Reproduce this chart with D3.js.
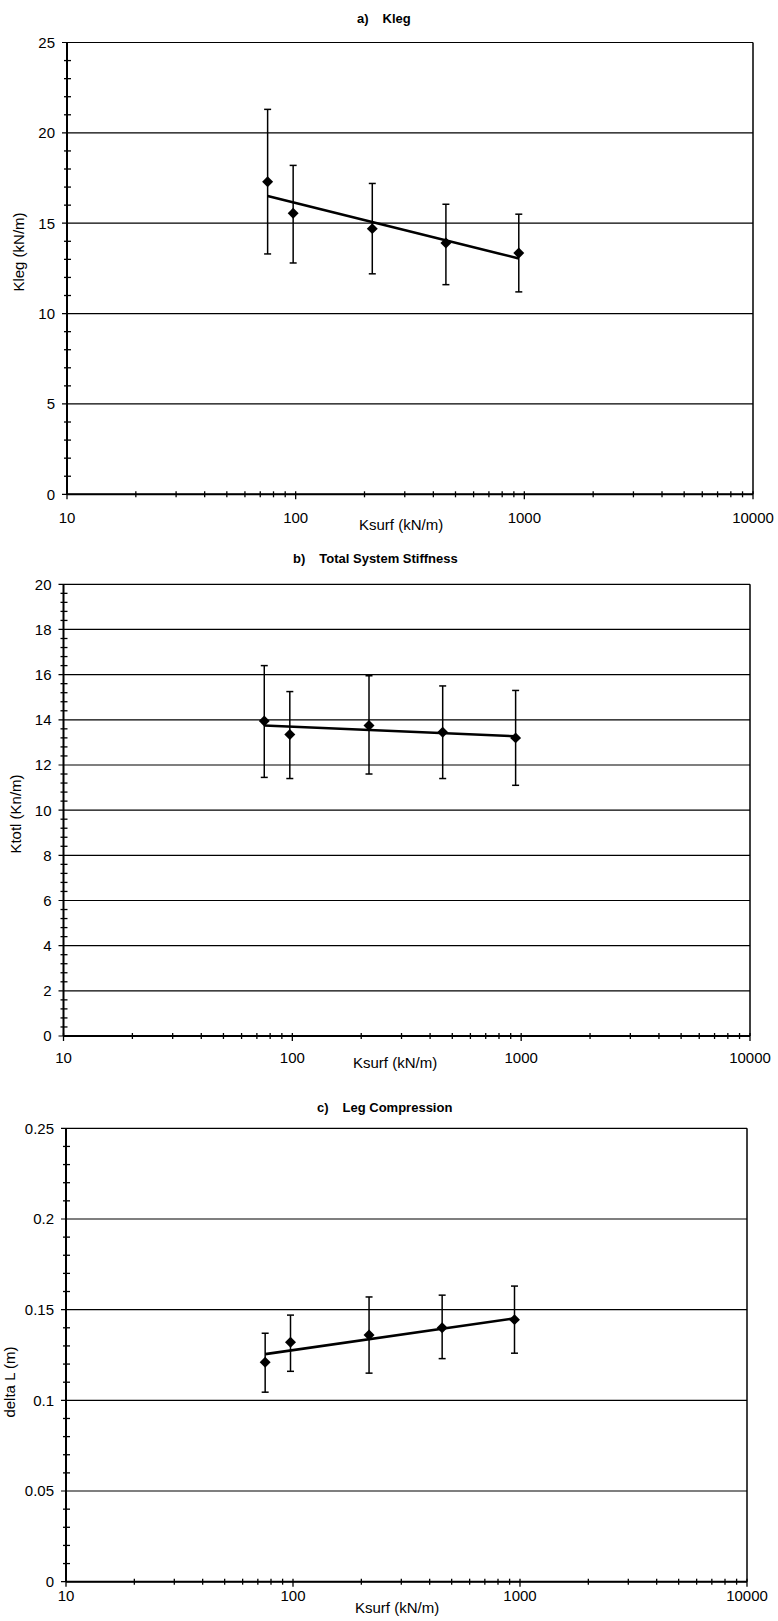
<!DOCTYPE html>
<html>
<head>
<meta charset="utf-8">
<script src="https://cdn.jsdelivr.net/npm/d3@7"></script>
<style>
  body { margin: 0; background: #fff; }
  svg { display: block; font-family: Arial, "Liberation Sans", sans-serif; }
</style>
</head>
<body>
<div id="chart"></div>
<script>
// surface stiffness (kN/m)
const ksurf = [75.4, 97.5, 216.3, 454.0, 945.7];
const xTicks = [10, 100, 1000, 10000];

// a) Kleg
const klegMean = [17.3, 15.55, 14.7, 13.9, 13.35];
const klegHi = [21.3, 18.2, 17.2, 16.05, 15.5];
const klegLo = [13.3, 12.8, 12.2, 11.6, 11.2];
const klegFit = [16.5, 13.05];
const klegTicks = [0, 5, 10, 15, 20, 25];

// b) total system stiffness
const ktotMean = [13.95, 13.35, 13.75, 13.45, 13.2];
const ktotHi = [16.4, 15.25, 15.95, 15.5, 15.3];
const ktotLo = [11.45, 11.4, 11.6, 11.4, 11.1];
const ktotFit = [13.75, 13.27];
const ktotTicks = [0, 2, 4, 6, 8, 10, 12, 14, 16, 18, 20];

// c) leg compression
const dlMean = [0.121, 0.132, 0.136, 0.140, 0.1445];
const dlHi = [0.137, 0.147, 0.157, 0.158, 0.163];
const dlLo = [0.1045, 0.116, 0.115, 0.123, 0.126];
const dlFit = [0.1255, 0.1452];
const dlTicks = [0, 0.05, 0.1, 0.15, 0.2, 0.25];

const W = 778, H = 1621;
const svg = d3.select("#chart").append("svg")
  .attr("width", W)
  .attr("height", H);

function panel(p) {
  const yMax = p.ticks[p.ticks.length - 1];
  const x = d3.scaleLog().domain([10, 10000]).range([p.left, p.right]);
  const y = d3.scaleLinear().domain([0, yMax]).range([p.bottom, p.top]);
  const g = svg.append("g");

  // horizontal gridlines (major y ticks stick out left of the axis)
  g.selectAll(".grid").data(p.ticks).join("line")
    .attr("class", "grid")
    .attr("x1", p.left - 5).attr("x2", p.right)
    .attr("y1", d => y(d)).attr("y2", d => y(d))
    .attr("stroke", "#000").attr("stroke-width", 1.2);

  // right border
  g.append("line")
    .attr("x1", p.right).attr("x2", p.right)
    .attr("y1", p.top).attr("y2", p.bottom)
    .attr("stroke", "#000").attr("stroke-width", 1.5);

  // minor y ticks, crossing the axis
  const n = Math.round(yMax / p.minor);
  const yMinor = d3.range(n + 1).filter(i => i % p.per !== 0).map(i => i * p.minor);
  g.selectAll(".ymin").data(yMinor).join("line")
    .attr("x1", p.left - 3).attr("x2", p.left + 4)
    .attr("y1", d => y(d)).attr("y2", d => y(d))
    .attr("stroke", "#000").attr("stroke-width", 1.3);

  // minor x ticks
  const xMinor = [];
  [10, 100, 1000].forEach(dec => { for (let k = 2; k <= 9; k++) xMinor.push(k * dec); });
  g.selectAll(".xmin").data(xMinor).join("line")
    .attr("x1", d => x(d)).attr("x2", d => x(d))
    .attr("y1", p.bottom - 3).attr("y2", p.bottom + 3)
    .attr("stroke", "#000").attr("stroke-width", 1.3);
  g.selectAll(".xmaj").data(xTicks).join("line")
    .attr("x1", d => x(d)).attr("x2", d => x(d))
    .attr("y1", p.bottom - 3).attr("y2", p.bottom + 5)
    .attr("stroke", "#000").attr("stroke-width", 1.3);

  // axes lines
  g.append("line")
    .attr("x1", p.left).attr("x2", p.left)
    .attr("y1", p.top).attr("y2", p.bottom)
    .attr("stroke", "#000").attr("stroke-width", 2);
  g.append("line")
    .attr("x1", p.left).attr("x2", p.right)
    .attr("y1", p.bottom).attr("y2", p.bottom)
    .attr("stroke", "#000").attr("stroke-width", 2);

  // tick labels
  g.selectAll(".ylab").data(p.ticks).join("text")
    .attr("x", p.left - 12).attr("y", d => y(d))
    .attr("dy", "0.36em")
    .attr("text-anchor", "end")
    .attr("font-size", 15)
    .text(d => String(d));
  g.selectAll(".xlab").data(xTicks).join("text")
    .attr("x", d => x(d)).attr("y", p.bottom + p.xlabGap)
    .attr("text-anchor", "middle")
    .attr("font-size", 15)
    .text(d => String(d));

  // axis titles
  g.append("text")
    .attr("x", p.xTitleX).attr("y", p.bottom + p.xTitleGap)
    .attr("font-size", 15)
    .text("Ksurf (kN/m)");
  g.append("text")
    .attr("transform", `translate(${p.yTitleX},${p.yTitleY}) rotate(-90)`)
    .attr("text-anchor", "middle")
    .attr("font-size", 15)
    .text(p.yTitle);

  // chart title
  const t = g.append("text")
    .attr("x", p.titleX).attr("y", p.titleY)
    .attr("font-size", 13).attr("font-weight", "bold")
    .text(p.tag);
  t.append("tspan").attr("dx", 14).text(p.title);

  // error bars
  const rows = ksurf.map((k, i) => ({ k, m: p.mean[i], hi: p.hi[i], lo: p.lo[i] }));
  const eb = g.selectAll(".eb").data(rows).join("g")
    .attr("stroke", "#000").attr("stroke-width", 1.5);
  eb.append("line")
    .attr("x1", d => x(d.k)).attr("x2", d => x(d.k))
    .attr("y1", d => y(d.lo)).attr("y2", d => y(d.hi));
  eb.append("line")
    .attr("x1", d => x(d.k) - 3.5).attr("x2", d => x(d.k) + 3.5)
    .attr("y1", d => y(d.hi)).attr("y2", d => y(d.hi));
  eb.append("line")
    .attr("x1", d => x(d.k) - 3.5).attr("x2", d => x(d.k) + 3.5)
    .attr("y1", d => y(d.lo)).attr("y2", d => y(d.lo));

  // log trendline
  const fit = [{ k: ksurf[0], v: p.fit[0] }, { k: ksurf[ksurf.length - 1], v: p.fit[1] }];
  g.append("path")
    .datum(fit)
    .attr("fill", "none")
    .attr("stroke", "#000")
    .attr("stroke-width", 2.6)
    .attr("d", d3.line().x(d => x(d.k)).y(d => y(d.v)));

  // diamond markers
  g.selectAll(".pt").data(rows).join("path")
    .attr("d", d3.symbol(d3.symbolSquare, 60))
    .attr("transform", d => `translate(${x(d.k)},${y(d.m)}) rotate(45)`)
    .attr("fill", "#000");
}

panel({
  left: 67, right: 753, top: 42.5, bottom: 494.3,
  ticks: klegTicks, minor: 1, per: 5,
  mean: klegMean, hi: klegHi, lo: klegLo, fit: klegFit,
  tag: "a)", title: "Kleg", titleX: 357, titleY: 23,
  yTitle: "Kleg (kN/m)", yTitleX: 24, yTitleY: 252,
  xTitleX: 359, xTitleGap: 36, xlabGap: 29
});

panel({
  left: 63.5, right: 750, top: 584.3, bottom: 1036,
  ticks: ktotTicks, minor: 0.4, per: 5,
  mean: ktotMean, hi: ktotHi, lo: ktotLo, fit: ktotFit,
  tag: "b)", title: "Total System Stiffness", titleX: 293, titleY: 563,
  yTitle: "Ktotl (Kn/m)", yTitleX: 21, yTitleY: 814,
  xTitleX: 353, xTitleGap: 32, xlabGap: 27
});

panel({
  left: 66, right: 747, top: 1128.3, bottom: 1581.7,
  ticks: dlTicks, minor: 0.01, per: 5,
  mean: dlMean, hi: dlHi, lo: dlLo, fit: dlFit,
  tag: "c)", title: "Leg Compression", titleX: 317, titleY: 1112,
  yTitle: "delta L (m)", yTitleX: 15, yTitleY: 1382,
  xTitleX: 355, xTitleGap: 31, xlabGap: 19
});
</script>
</body>
</html>
